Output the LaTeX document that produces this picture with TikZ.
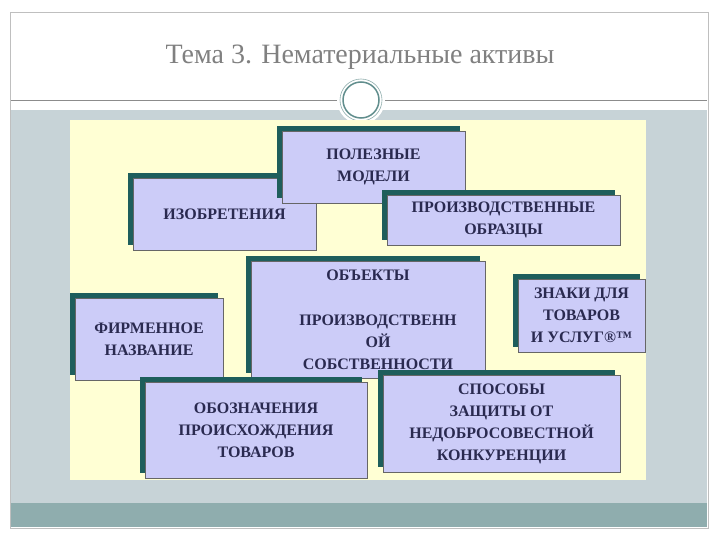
\documentclass[tikz,border=0pt]{standalone}
\usepackage{fontspec}
\setmainfont{Liberation Serif}
\usetikzlibrary{shadows}
\definecolor{panel}{HTML}{C7D3D7}
\definecolor{band}{HTML}{8FADAE}
\definecolor{yel}{HTML}{FFFFD4}
\definecolor{boxc}{HTML}{CCCCF8}
\definecolor{shad}{HTML}{1E5E5C}
\definecolor{txt}{HTML}{2A2A50}
\begin{document}
\begin{tikzpicture}[x=1pt,y=-1pt,
 box/.style={fill=boxc,draw=black!60,line width=0.5pt,inner sep=0pt,align=center,
  font=\bfseries\fontsize{16}{22}\selectfont,text=txt,
  drop shadow={shadow xshift=-5pt,shadow yshift=5pt,opacity=1,fill=shad}}]
\useasboundingbox (0,0) rectangle (720,540);
\fill[white] (0,0) rectangle (720,540);
\draw[black!25] (10,12) rectangle (708,528);
\fill[panel] (11,110) rectangle (707,503);
\fill[band] (11,503) rectangle (707,527);
\draw[black!45] (11,100) -- (707,100);
\node[circle,fill=white,minimum size=48pt] (ring) at (361,100) {};
\draw[shad!70,line width=1.5pt] (ring.center) circle (18);
\draw[shad!50,line width=0.6pt] (ring.center) circle (21);
\node[text=black!50,font=\fontsize{28}{32}\selectfont] (title) at (360,57) {Тема 3. Нематериальные активы};
\fill[yel] (70,120) rectangle (646,480);
\node[box,minimum width=183,minimum height=72] (izo) at (224.5,214) {ИЗОБРЕТЕНИЯ};
\node[box,minimum width=183,minimum height=72] (pol) at (373.5,167) {ПОЛЕЗНЫЕ\\МОДЕЛИ};
\node[box,minimum width=233,minimum height=50] (obr) at (503.5,220) {ПРОИЗВОДСТВЕННЫЕ\\ОБРАЗЦЫ};
\node[box,minimum width=234,minimum height=117,anchor=north west] (obj) at (251,261) {};
\begin{scope}
\clip (251,261) rectangle (485,378);
\node[font=\bfseries\fontsize{16}{22}\selectfont,text=txt] (t1) at (368,275) {ОБЪЕКТЫ};
\node[font=\bfseries\fontsize{16}{22}\selectfont,text=txt,align=center,anchor=north] (t2) at (378,311) {ПРОИЗВОДСТВЕНН\\ОЙ\\СОБСТВЕННОСТИ};
\end{scope}
\node[box,minimum width=148,minimum height=82] (fir) at (149,339) {ФИРМЕННОЕ\\НАЗВАНИЕ};
\node[box,minimum width=127,minimum height=73] (zn) at (581.5,315.5) {ЗНАКИ ДЛЯ\\ТОВАРОВ\\И УСЛУГ®™};
\node[box,minimum width=222,minimum height=96] (oboz) at (256,430) {ОБОЗНАЧЕНИЯ\\ПРОИСХОЖДЕНИЯ\\ТОВАРОВ};
\node[box,minimum width=237,minimum height=97] (sp) at (501.5,423.5) {СПОСОБЫ\\ЗАЩИТЫ ОТ\\НЕДОБРОСОВЕСТНОЙ\\КОНКУРЕНЦИИ};
\end{tikzpicture}
\end{document}
